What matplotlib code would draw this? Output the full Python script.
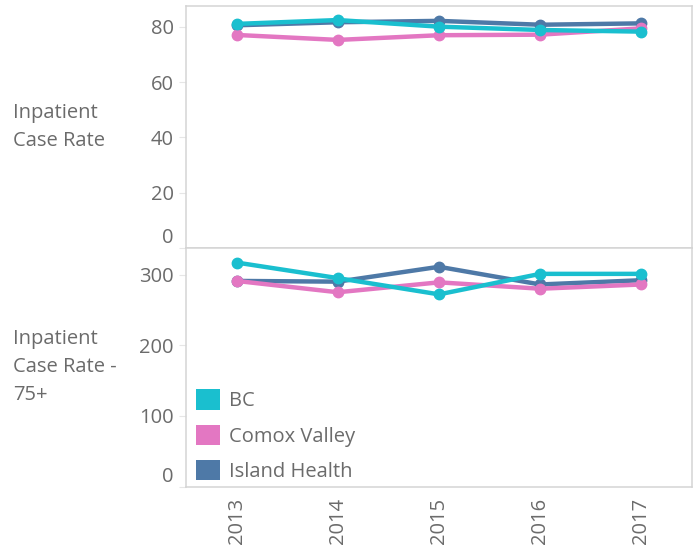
import matplotlib.pyplot as plt
from matplotlib.patches import Patch
import numpy as np

plt.rcParams['font.family'] = ['Open Sans', 'DejaVu Sans']

years = ['2013', '2014', '2015', '2016', '2017']
series_names = ['BC', 'Comox Valley', 'Island Health']
colors = {'BC': '#1abfcf', 'Comox Valley': '#e377c2', 'Island Health': '#4e79a7'}

# Inpatient case rate
rate_bc = [81.1, 82.5, 80.1, 78.9, 78.3]
rate_comox = [77.1, 75.3, 77.0, 77.2, 79.5]
rate_ih = [80.6, 81.7, 82.2, 80.8, 81.3]

# Inpatient case rate - 75+
rate75_bc = [317, 295, 272, 301, 301]
rate75_comox = [291, 275, 289, 280, 286]
rate75_ih = [291, 290, 311, 286, 292]

W, H = 698, 548
fig = plt.figure(figsize=(W / 100, H / 100), dpi=100)

left = 186 / W
width = (692 - 186) / W
ax1 = fig.add_axes([left, (H - 247.7) / H, width, 242 / H])
ax2 = fig.add_axes([left, (H - 486.7) / H, width, 239 / H], sharex=ax1)

txt_col = '#6b6b6b'
line_col = '#d4d4d4'
fs = 14.5
x = np.arange(len(years))

def draw(ax, bc, comox, ih):
    # draw order: IH underneath, BC on top
    for name, vals in [('Island Health', ih), ('Comox Valley', comox), ('BC', bc)]:
        ax.plot(x, vals, color=colors[name], lw=3.2, marker='o', ms=7.5,
                solid_capstyle='round', solid_joinstyle='round')
    for s in ax.spines.values():
        s.set_color(line_col)
        s.set_linewidth(1.1)
    ax.tick_params(axis='y', length=5, width=0.8, color='#e6e6e6',
                   labelsize=fs, labelcolor=txt_col, pad=4)
    ax.tick_params(axis='x', length=0, labelsize=fs, labelcolor=txt_col, pad=8)

draw(ax1, rate_bc, rate_comox, rate_ih)
draw(ax2, rate75_bc, rate75_comox, rate75_ih)

ax1.set_xlim(-0.5, 4.5)
ax1.set_ylim(0, 87.7)
ax1.set_yticks([0, 20, 40, 60, 80])
ax2.set_ylim(0, 338)
ax2.set_yticks([0, 100, 200, 300])
ax2.set_xticks(x)
ax2.set_xticklabels(years, rotation=90, va='top')
plt.setp(ax1.get_xticklabels(), visible=False)

# keep the zero labels inside their panel like the original
for ax in (ax1, ax2):
    fig.canvas.draw()
    ax.get_yticklabels()[0].set_verticalalignment('bottom')

fig.text(13 / W, 1 - 126.7 / H, 'Inpatient\nCase Rate', fontsize=fs,
         color=txt_col, va='center', ha='left', linespacing=1.55)
fig.text(13 / W, 1 - 367.2 / H, 'Inpatient\nCase Rate -\n75+', fontsize=fs,
         color=txt_col, va='center', ha='left', linespacing=1.55)

handles = [Patch(facecolor=colors[n], edgecolor='none', label=n) for n in series_names]
ax2.legend(handles=handles, loc='lower left', bbox_to_anchor=(196 / W, (H - 482) / H),
           bbox_transform=fig.transFigure, frameon=False, fontsize=fs,
           handlelength=1.19, handleheight=1.19, handletextpad=0.43,
           labelspacing=0.66, borderpad=0, borderaxespad=0, labelcolor=txt_col)

fig.savefig('out.png', dpi=100)
